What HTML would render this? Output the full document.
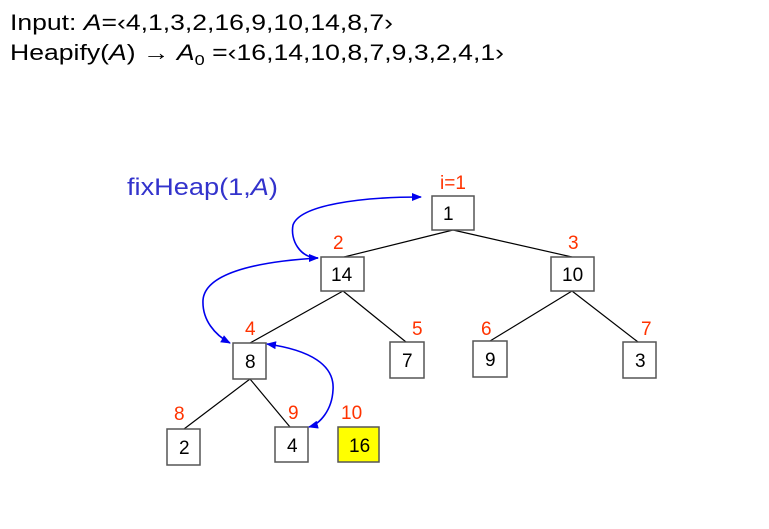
<!DOCTYPE html>
<html><head><style>
body{margin:0;background:#fff;width:769px;height:529px;overflow:hidden}
svg{display:block}
text{font-family:"Liberation Sans",sans-serif}
.r{fill:#ff3300;font-size:19px}
.n{font-size:19px;fill:#000}
</style></head><body>
<svg width="769" height="529" viewBox="0 0 769 529">
<defs>
<marker id="a" markerWidth="10" markerHeight="8" refX="9" refY="4" orient="auto" markerUnits="userSpaceOnUse"><path d="M0,0 L10,4 L0,8 z" fill="#0000ee"/></marker>
<marker id="s" markerWidth="10" markerHeight="8" refX="9" refY="4" orient="auto-start-reverse" markerUnits="userSpaceOnUse"><path d="M0,0 L10,4 L0,8 z" fill="#0000ee"/></marker>
</defs>
<text x="10" y="30" font-size="22" textLength="383" lengthAdjust="spacingAndGlyphs">Input: <tspan font-style="italic">A</tspan>=‹4,1,3,2,16,9,10,14,8,7›</text>
<text x="10" y="60" font-size="22" textLength="494" lengthAdjust="spacingAndGlyphs">Heapify(<tspan font-style="italic">A</tspan>) → <tspan font-style="italic">A</tspan><tspan font-size="15" dy="5">0</tspan><tspan dy="-5"> =‹16,14,10,8,7,9,3,2,4,1›</tspan></text>
<text x="127" y="195" font-size="24" fill="#3333cc" textLength="151" lengthAdjust="spacingAndGlyphs">fixHeap(1,<tspan font-style="italic">A</tspan>)</text>
<g stroke="#000" stroke-width="1.2">
<line x1="453" y1="230" x2="344" y2="257"/><line x1="453" y1="230" x2="572" y2="257"/>
<line x1="343" y1="291" x2="250" y2="343"/><line x1="343" y1="291" x2="406" y2="342"/>
<line x1="572" y1="291" x2="490" y2="341"/><line x1="572" y1="291" x2="638" y2="342"/>
<line x1="250" y1="379" x2="184" y2="429"/><line x1="250" y1="379" x2="290" y2="427"/>
</g>
<g stroke="#555" stroke-width="1.5" fill="#fff">
<rect x="432" y="196" width="42" height="34"/>
<rect x="321" y="257" width="43" height="34"/>
<rect x="551" y="257" width="43" height="34"/>
<rect x="233" y="343" width="33" height="36"/>
<rect x="390" y="342" width="34" height="36"/>
<rect x="473" y="341" width="34" height="36"/>
<rect x="623" y="342" width="33" height="36"/>
<rect x="167" y="429" width="33" height="36"/>
<rect x="275" y="427" width="33" height="35"/>
<rect x="338" y="427" width="41" height="35" fill="#ffff00"/>
</g>
<g class="n">
<text x="443" y="220">1</text><text x="331" y="281">14</text><text x="562" y="281">10</text>
<text x="245" y="368">8</text><text x="402" y="367">7</text><text x="485" y="366">9</text>
<text x="635" y="367">3</text><text x="179" y="454">2</text><text x="287" y="452">4</text>
<text x="349" y="452">16</text>
</g>
<g class="r">
<text x="440" y="189">i=1</text><text x="333" y="249">2</text><text x="568" y="249">3</text>
<text x="245" y="335">4</text><text x="412" y="335">5</text><text x="481" y="335">6</text>
<text x="641" y="335">7</text><text x="174" y="420">8</text><text x="288" y="419">9</text>
<text x="341" y="419">10</text>
</g>
<g fill="none" stroke="#0000ee" stroke-width="1.6">
<path d="M318,258 C300,258 290,240 293,225 C300,205 360,197 421,197" marker-start="url(#s)" marker-end="url(#a)"/>
<path d="M318,258 C250,262 205,275 203,300 C202,320 215,335 230,343" marker-end="url(#a)"/>
<path d="M267,344 C310,350 335,365 333,390 C332,410 320,424 309,427" marker-start="url(#s)" marker-end="url(#a)"/>
</g>
</svg>
</body></html>
